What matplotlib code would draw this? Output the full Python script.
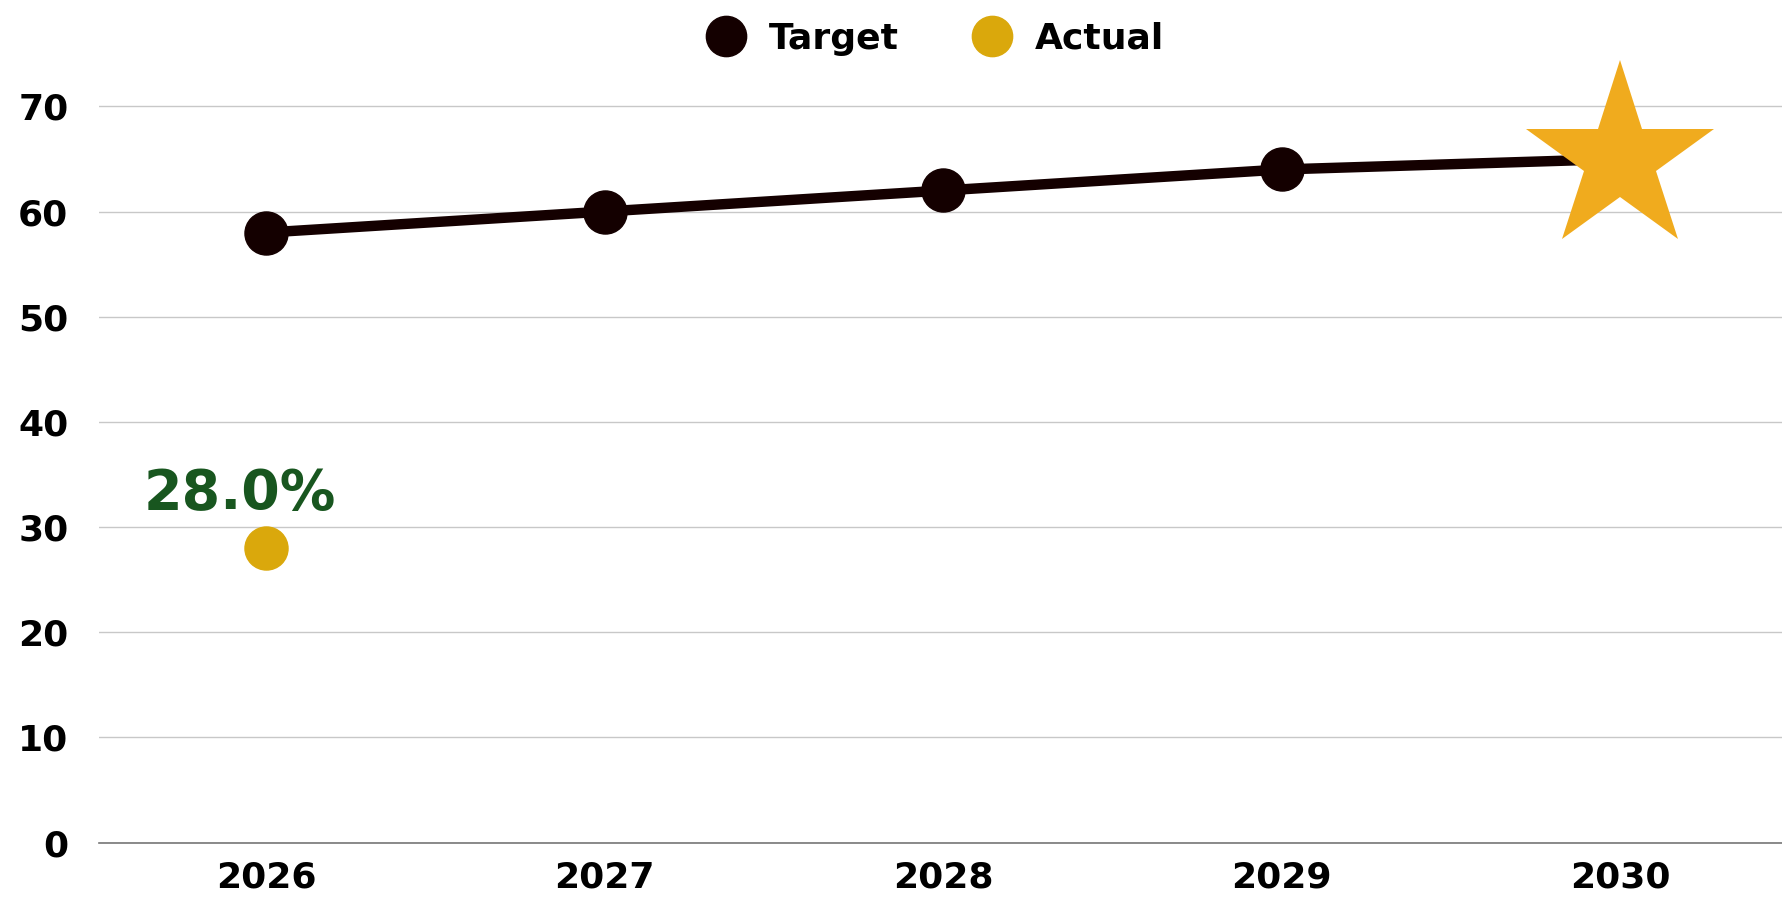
import matplotlib
matplotlib.use('Agg')
import matplotlib.pyplot as plt
from matplotlib.lines import Line2D

plt.rcParams['font.family'] = ['DejaVu Sans']
plt.rcParams['font.weight'] = 'bold'

# data
years = [2026, 2027, 2028, 2029, 2030]
target = [58, 60, 62, 64, 65]
actual_years = [2026]
actual = [28.0]
y_ticks = [0, 10, 20, 30, 40, 50, 60, 70]

target_color = '#140000'
actual_color = '#DAA80C'
star_color = '#F0AB1E'
label_color = '#18561F'

fig = plt.figure(figsize=(17.83, 8.99), dpi=100)
ax = fig.add_axes([0.0555, 0.0627, 0.9445, 0.936])

# target line, circles on all but the final goal year, star on the goal
ax.plot(years, target, color=target_color, linewidth=7.5, zorder=3, solid_capstyle='butt')
ax.plot(years[:-1], target[:-1], 'o', color=target_color, markersize=31, zorder=4)
ax.plot(years[-1:], target[-1:], '*', color=star_color, markersize=142, markeredgewidth=0, zorder=5)

# actual value
ax.plot(actual_years, actual, 'o', color=actual_color, markersize=31, zorder=4)
for x, v in zip(actual_years, actual):
    ax.annotate(f'{v:.1f}%', (x, v), xytext=(-19, 28), textcoords='offset points',
                ha='center', va='baseline', fontsize=40, fontweight='bold', color=label_color)

ax.set_xlim(2025.506, 2030.48)
ax.set_ylim(0, 80)
ax.set_yticks(y_ticks)
ax.set_xticks(years)
ax.set_xticklabels([str(y) for y in years])
ax.tick_params(axis='both', length=0, labelsize=26)
ax.tick_params(axis='y', pad=22)
ax.tick_params(axis='x', pad=13)
for lab in ax.get_xticklabels() + ax.get_yticklabels():
    lab.set_fontweight('bold')

ax.grid(axis='y', color='#C8C8C8', linewidth=1)
ax.set_axisbelow(True)
for s in ['top', 'right', 'left']:
    ax.spines[s].set_visible(False)
ax.spines['bottom'].set_color('#777777')
ax.spines['bottom'].set_linewidth(1.2)

handles = [
    Line2D([], [], marker='o', linestyle='none', color=target_color, markersize=29),
    Line2D([], [], marker='o', linestyle='none', color=actual_color, markersize=29),
]
fig.legend(handles, ['Target', 'Actual'], loc='center', bbox_to_anchor=(0.525, 0.957),
           ncol=2, frameon=False, prop={'size': 26, 'weight': 'bold'},
           handletextpad=0.67, columnspacing=2.1, handlelength=1.0)

fig.savefig('out.png', dpi=100)
